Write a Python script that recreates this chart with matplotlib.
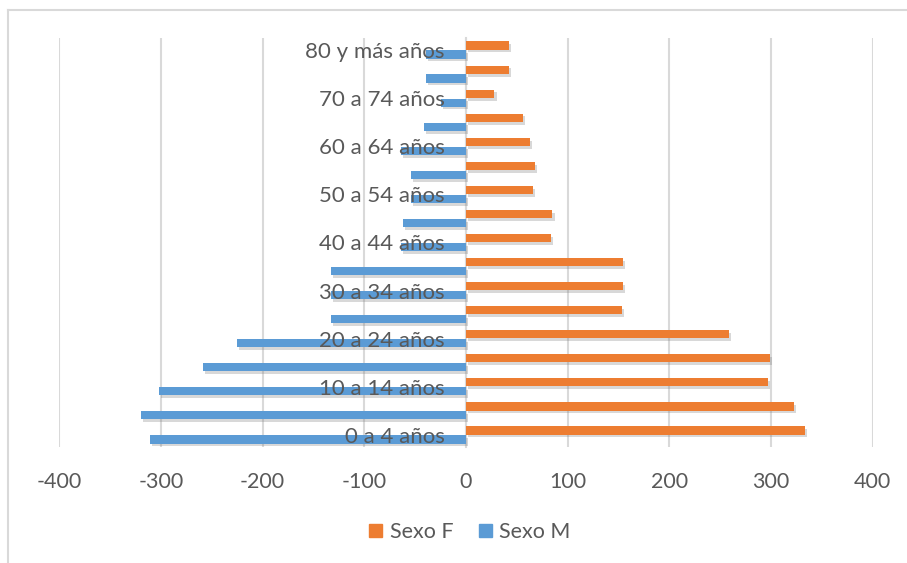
import numpy as np
import matplotlib
matplotlib.use("Agg")
import matplotlib.pyplot as plt
import matplotlib.patheffects as pe
from matplotlib.patches import Patch
from matplotlib.lines import Line2D

# --- data (bottom to top) ---
categories = ["0 a 4 años", "5 a 9 años", "10 a 14 años", "15 a 19 años",
              "20 a 24 años", "25 a 29 años", "30 a 34 años", "35 a 39 años",
              "40 a 44 años", "45 a 49 años", "50 a 54 años", "55 a 59 años",
              "60 a 64 años", "65 a 69 años", "70 a 74 años", "75 a 79 años",
              "80 y más años"]
sexo_f = [333, 323, 297, 299, 259, 153, 154, 154, 84, 85, 66, 68, 63, 56, 28, 42, 42]
sexo_m = [-311, -320, -302, -259, -225, -133, -133, -133, -64, -62, -54, -54, -64, -41, -25, -39, -39]
x_ticks = [-400, -300, -200, -100, 0, 100, 200, 300, 400]

ORANGE = "#ED7D31"
BLUE = "#5B9BD5"
GRID = "#D9D9D9"
TEXT = "#595959"

plt.rcParams['font.family'] = ['Lato', 'DejaVu Sans']

W, H = 907, 563
fig = plt.figure(figsize=(W / 100, H / 100), dpi=100)
ax = fig.add_axes([59.3 / W, 1 - 447 / H, (872.7 - 59.3) / W, (447 - 38) / H])

y = np.arange(len(categories))
bh = 0.34
off = 0.185
shadow = [pe.SimplePatchShadow(offset=(1.5, -2.0), shadow_rgbFace="#7f7f7f", alpha=0.3), pe.Normal()]

ax.barh(y + off, sexo_f, height=bh, color=ORANGE, label="Sexo F", zorder=3, path_effects=shadow)
ax.barh(y - off, sexo_m, height=bh, color=BLUE, label="Sexo M", zorder=3, path_effects=shadow)

ax.set_xlim(-400, 400)
ax.set_ylim(-0.5, len(categories) - 0.5)
ax.set_xticks(x_ticks)
ax.set_xticklabels([str(v) for v in x_ticks])
ax.xaxis.grid(True, color=GRID, linewidth=1.5, zorder=0)
ax.set_axisbelow(True)

# category labels sit next to the zero axis, drawn over the bars
ax.spines['left'].set_position(('data', 0))
ax.spines['left'].set_color(GRID)
ax.spines['left'].set_linewidth(1.5)
ax.spines['left'].set_zorder(1)
for s in ['top', 'right', 'bottom']:
    ax.spines[s].set_visible(False)
ax.set_yticks(y[::2])
ax.set_yticklabels(categories[::2])
ax.yaxis.set_zorder(4)
ax.tick_params(axis='y', length=0, pad=15.5, labelsize=16, labelcolor=TEXT)
ax.tick_params(axis='x', length=0, pad=18, labelsize=15.5, labelcolor=TEXT)

# legend
handles = [Patch(color=ORANGE, label="Sexo F"), Patch(color=BLUE, label="Sexo M")]
fig.legend(handles=handles, loc='center', bbox_to_anchor=(470 / W, 1 - 532 / H), ncol=2,
           frameon=False, fontsize=15.5, labelcolor=TEXT, handlelength=0.6, handleheight=0.6,
           handletextpad=0.35, columnspacing=1.2)

# chart frame (partly cropped)
fig.add_artist(Line2D([8 / W, 8 / W], [0, 1 - 10 / H], color=GRID, linewidth=1.5))
fig.add_artist(Line2D([8 / W, 1], [1 - 10 / H, 1 - 10 / H], color=GRID, linewidth=1.5))

fig.savefig("out.png", dpi=100, facecolor="white")
